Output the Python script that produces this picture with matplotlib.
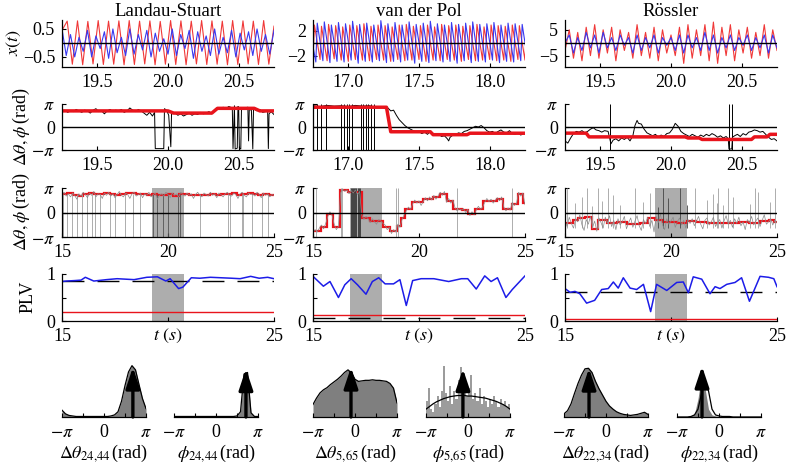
import numpy as np
import matplotlib
matplotlib.use('Agg')
import matplotlib.pyplot as plt

plt.rcParams['font.family'] = ['Liberation Serif', 'DejaVu Serif']
plt.rcParams['mathtext.fontset'] = 'stix'
plt.rcParams['font.size'] = 13
plt.rcParams['axes.linewidth'] = 0.9

PI = np.pi

# ---------------- data ----------------
titles = ['Landau-Stuart', 'van der Pol', 'Rössler']
zoom_windows = [(19.25, 20.75), (16.75, 18.25), (19.25, 20.75)]
zoom_ticks = [[19.5, 20.0, 20.5], [17.0, 17.5, 18.0], [19.5, 20.0, 20.5]]
x_yticks = [[-0.5, 0.5], [-2, 2], [-5, 5]]
x_ylims = [(-0.86, 0.82), (-3.8, 3.7), (-9.4, 8.8)]

# row 1: oscillator signals (successive extrema)
ls_red = [0.45, 0.78, -0.76, 0.79, -0.78, 0.77, -0.75, 0.8, -0.77, 0.78, -0.76, 0.79, -0.78, 0.8,
          -0.77, 0.78, -0.75, 0.79, -0.78, 0.77, -0.76, 0.8, -0.77, 0.79, -0.78, 0.78, -0.75, 0.8,
          -0.77, 0.79, -0.76, 0.78, -0.78, 0.8, -0.77, 0.79, -0.75, 0.78, -0.77, 0.8, -0.76, 0.6]
ls_blue = [0.5, -0.45, 0.3, -0.5, 0.2, -0.3, 0.45, -0.5, 0.25, -0.2, 0.4, -0.55, 0.5, -0.35, 0.2,
           -0.45, 0.5, -0.4, 0.3, -0.25, 0.45, -0.5, 0.35, -0.3, 0.15, -0.4, 0.5, -0.45, 0.3, -0.2,
           0.45, -0.55, 0.4, -0.3, 0.25, -0.45, 0.5, -0.4, 0.2, -0.35, 0.45, -0.5, 0.35, -0.25, 0.4,
           -0.45, 0.5, -0.3, 0.3, -0.4, 0.45]
vdp_red = [-2.7, 2.9, -2.6, 2.7, -2.8, 3.0, -2.5, 2.8, -2.7, 2.6, -2.9, 2.9, -2.6, 2.8, -2.7, 3.1,
           -2.8, 2.7, -2.6, 2.9, -2.7, 2.8, -2.9, 2.6, -2.6, 2.9, -2.8, 3.0, -2.7, 2.7, -2.6, 2.8,
           -2.9, 2.9, -2.7, 2.6, -2.8, 3.0, -2.6, 2.8, -2.7, 2.9, -2.9, 2.7, -2.6, 2.8, -2.8, 3.0,
           -2.7, 2.6, -2.6, 2.9, -2.8, 2.8, -2.7, 2.7, -2.9, 2.9, -2.6, 2.8, -2.7, 2.9, -2.6]
vdp_blue = [2.0, -3.0, 3.2, -2.8, 3.4, -3.1, 2.9, -2.9, 3.3, -3.0, 3.1, -2.7, 3.5, -3.2, 3.0, -2.9,
            3.2, -3.0, 2.9, -2.8, 3.6, -3.1, 3.1, -2.9, 3.3, -3.0, 2.9, -2.7, 3.4, -3.2, 3.0, -2.9,
            3.2, -3.1, 3.5, -2.8, 3.1, -3.0, 2.9, -2.9, 3.3, -3.2, 3.0, -2.8, 3.2, -3.1, 3.4, -2.9,
            3.0, -3.0, 3.1, -2.7, 3.3, -3.1, 2.9, -2.9, 3.2, -3.0, 3.1, -2.8, 3.0, -2.9, 3.2]
ross_red = [-3, 5, -6, 4, -7, 6, -5, 7, -6, 5, -4, 6, -7, 5, -3, 4, -6, 7, -5, 4, -6, 6, -7, 5, -4,
            3, -5, 6, -8, 7, -6, 5, -5, 7, -7, 8, -8, 6, -5, 7, -7, 5, -4, 6, -6, 4, -5, 7, -6, 5, -3]
ross_blue = [0, 3, -4, 2, -3, 4, -2, 3, -4, 4, -2, 2, -3, 3, -1, 2, -4, 3, -3, 2, -2, 3, -4, 2, -1,
             2, -3, 3, -4, 3, -2, 2, -3, 4, -3, 3, -4, 2, -2, 3, -3, 2, -1, 3, -3, 2, -2, 3, -4, 3, -2]

# row 2: phase difference (black) and locking phase (red), zoomed windows
ls_black2 = [(19.25, 2.1), (19.27, 2.3), (19.29, 2.0), (19.31, 2.2), (19.33, 2.1), (19.35, 2.4),
             (19.37, 2.2), (19.39, 2.0), (19.41, 2.3), (19.43, 2.2), (19.45, 1.9), (19.47, 2.3),
             (19.49, 2.5), (19.51, 2.1), (19.53, 2.2), (19.55, 1.8), (19.57, 2.2), (19.59, 2.4),
             (19.61, 2.1), (19.63, 2.3), (19.65, 2.2), (19.67, 2.4), (19.69, 2.0), (19.71, 2.2),
             (19.73, 2.6), (19.75, 2.3), (19.77, 2.1), (19.79, 2.4), (19.81, 2.2), (19.83, 1.9),
             (19.85, 1.6), (19.87, 2.0), (19.89, 1.5), (19.905, 2.0), (19.91, -2.95), (19.97, -2.95),
             (19.975, 2.5), (19.99, 2.3), (20.005, 1.6), (20.02, -2.7), (20.025, 1.8), (20.05, 1.9),
             (20.07, 1.6), (20.09, 1.8), (20.11, 1.5), (20.13, 1.7), (20.15, 1.9), (20.17, 1.6),
             (20.19, 1.8), (20.21, 1.7), (20.23, 2.0), (20.25, 1.8), (20.27, 1.9), (20.29, 2.1),
             (20.31, 1.8), (20.33, 2.2), (20.35, 2.6), (20.37, 2.4), (20.39, 2.7), (20.41, 2.5),
             (20.43, 2.8), (20.455, 2.6), (20.46, -2.95), (20.47, 2.9), (20.475, -3.0), (20.49, -2.9),
             (20.495, 2.8), (20.5, 2.7), (20.505, -2.9), (20.515, -3.0), (20.52, 2.5), (20.54, 2.6),
             (20.565, 2.7), (20.57, -1.9), (20.575, 2.4), (20.59, 2.3), (20.6, -3.0), (20.605, 2.5),
             (20.63, 2.2), (20.65, 2.4), (20.67, 2.0), (20.69, 2.1), (20.705, 2.2), (20.71, -2.95),
             (20.715, 1.8), (20.73, 2.1), (20.75, 1.7)]
ls_red2 = [(19.25, 2.2), (20.0, 2.2), (20.04, 1.9), (20.31, 1.9), (20.35, 2.55), (20.61, 2.55),
           (20.65, 2.2), (20.75, 2.2)]
ls_wraps2 = []

vdp_black2 = [(16.75, 2.9), (16.8, 2.8), (16.85, 2.95), (16.9, 2.85), (16.95, 2.9), (17.0, 2.8),
              (17.05, 2.95), (17.1, 2.85), (17.15, 2.9), (17.2, 2.7), (17.23, 2.8), (17.26, 2.5),
              (17.28, 2.6), (17.3, 2.2), (17.32, 2.3), (17.34, 1.6), (17.36, 1.0), (17.38, 0.6),
              (17.4, 0.2), (17.42, -0.1), (17.44, -0.3), (17.46, -0.5), (17.48, -0.7), (17.5, -0.6),
              (17.52, -0.9), (17.54, -0.7), (17.56, -1.0), (17.58, -0.6), (17.6, -0.9), (17.62, -1.1),
              (17.64, -1.0), (17.66, -1.3), (17.68, -1.2), (17.7, -1.6), (17.71, -1.9), (17.72, -1.4),
              (17.74, -1.1), (17.76, -1.0), (17.78, -0.8), (17.8, -0.9), (17.82, -0.6), (17.84, -0.5),
              (17.86, -0.3), (17.88, -0.1), (17.9, 0.1), (17.92, 0.0), (17.94, 0.2), (17.96, -0.1),
              (17.98, -0.5), (18.0, -0.7), (18.02, -0.6), (18.04, -0.9), (18.06, -0.6), (18.08, -0.4),
              (18.1, -0.7), (18.12, -0.8), (18.14, -0.5), (18.16, -0.9), (18.18, -1.0), (18.2, -0.8),
              (18.22, -1.1), (18.24, -0.9), (18.25, -1.0)]
vdp_red2 = [(16.75, 2.7), (17.27, 2.7), (17.3, -0.65), (17.58, -0.65), (17.6, -1.05), (17.84, -1.05),
            (17.86, -0.85), (18.25, -0.85)]
vdp_wraps2 = [16.776, 16.81, 16.845, 16.95, 16.97, 16.99, 17.007, 17.026, 17.088, 17.104, 17.123,
              17.14, 17.157, 17.18]

ross_black2 = [(19.25, -1.9), (19.27, -2.2), (19.29, -1.5), (19.31, -0.9), (19.33, -0.6), (19.35, -0.7),
               (19.37, -0.5), (19.39, -0.8), (19.41, -0.6), (19.43, -0.3), (19.45, -0.1), (19.47, -0.4),
               (19.49, -0.5), (19.51, -0.7), (19.53, -0.5), (19.555, -0.6), (19.575, -2.3), (19.59, -1.8),
               (19.61, -1.6), (19.63, -1.9), (19.65, -1.5), (19.67, -1.7), (19.69, -1.4), (19.71, -1.9),
               (19.73, -1.2), (19.745, 0.2), (19.76, 0.9), (19.77, 0.5), (19.79, 0.4), (19.81, -0.3),
               (19.83, -0.8), (19.85, -1.0), (19.87, -1.2), (19.89, -1.0), (19.91, -1.4), (19.93, -1.1),
               (19.95, -1.3), (19.97, -0.9), (19.99, -0.8), (20.01, -0.3), (20.03, 0.5), (20.05, 0.1),
               (20.07, -0.6), (20.09, -0.9), (20.11, -1.1), (20.13, -1.3), (20.15, -1.0), (20.17, -1.2),
               (20.19, -1.4), (20.21, -1.1), (20.23, -1.3), (20.25, -1.0), (20.27, -1.2), (20.29, -0.9),
               (20.31, -1.1), (20.33, -1.4), (20.35, -1.2), (20.37, -1.5), (20.39, -1.3), (20.405, -1.6),
               (20.41, -3.0), (20.43, -3.0), (20.435, -1.4), (20.45, -1.2), (20.47, -1.0), (20.49, -1.3),
               (20.51, -0.9), (20.53, -1.1), (20.55, -0.7), (20.57, -0.6), (20.59, -0.4), (20.61, -0.5),
               (20.63, -0.7), (20.65, -0.6), (20.67, -1.0), (20.69, -1.4), (20.71, -1.7), (20.73, -1.6),
               (20.75, -1.9)]
ross_red2 = [(19.25, -0.84), (19.4, -0.84), (19.42, -1.35), (20.1, -1.35), (20.12, -1.5), (20.2, -1.5),
             (20.22, -1.7), (20.57, -1.7), (20.59, -1.35), (20.68, -1.35), (20.7, -1.0), (20.75, -1.0)]
ross_wraps2 = [19.565, 20.41, 20.43]

# row 3: full 15-25 s window, samples every 0.1 s
ls_gray3 = [2.3, 2.6, 2.1, 2.4, 2.0, 2.5, 2.2, 1.7, 2.4, 2.1, 2.6, 2.3, 1.9, 2.5, 2.2, 2.7, 2.0, 2.4,
            2.3, 1.8, 2.5, 2.2, 2.6, 2.1, 2.4, 1.9, 2.3, 2.7, 2.2, 2.0, 2.5, 2.3, 1.8, 2.4, 2.6, 2.1,
            2.3, 2.5, 1.9, 2.4, 2.2, 2.6, 2.0, 2.3, 2.5, 1.7, 2.2, 2.4, 2.1, 2.6, 2.3, 1.9, 2.5, 2.2,
            2.4, 2.0, 2.6, 2.3, 2.1, 2.5, 2.2, 2.4, 1.8, 2.3, 2.6, 2.2, 2.0, 2.5, 2.3, 2.1, 2.6, 2.2,
            2.4, 1.9, 2.5, 2.3, 2.0, 2.4, 2.6, 2.2, 2.1, 2.5, 2.3, 1.8, 2.4, 2.6, 2.2, 2.0, 2.5, 2.3,
            2.4, 2.1, 2.6, 2.3, 1.9, 2.5, 2.2, 2.4, 2.0, 2.3, 2.2]
ls_red3_edges = [15.0, 15.25, 15.5, 15.75, 16.0, 16.25, 16.5, 16.75, 17.0, 17.25, 17.5, 17.75, 18.0,
                 18.25, 18.5, 18.75, 19.0, 19.25, 19.5, 19.75, 20.0, 20.25, 20.5, 20.75, 21.0, 21.25,
                 21.5, 21.75, 22.0, 22.25, 22.5, 22.75, 23.0, 23.25, 23.5, 23.75, 24.0, 24.25, 24.5,
                 24.75, 25.0]
ls_red3 = [2.4, 2.45, 2.25, 2.15, 2.4, 2.45, 2.4, 2.35, 2.45, 2.4, 2.3, 2.35, 2.45, 2.5, 2.4, 2.35,
           2.3, 2.4, 2.3, 2.25, 2.35, 2.15, 2.4, 2.35, 2.25, 2.3, 2.2, 2.3, 2.35, 2.3, 2.4, 2.35, 2.45,
           2.3, 2.35, 2.45, 2.4, 2.3, 2.35, 2.3]
ls_wraps3 = [15.06, 15.22, 15.45, 15.69, 15.93, 16.16, 16.4, 16.56, 16.79, 17.26, 17.5, 17.97, 18.36,
             18.68, 19.31, 19.47, 19.78, 20.02, 20.49, 20.57, 21.51, 22.85, 22.92, 23.48, 23.56,
             23.95, 24.43, 24.74]

vdp_gray3 = [-2.6, -2.2, -2.5, -2.0, -1.6, -2.1, -1.4, -0.5, 0.1, -0.4, -1.5, -2.2, -1.8, 2.5, 3.0,
             2.7, 2.9, 2.4, 2.8, 2.5, 2.9, 2.3, 2.7, -0.3, -0.9, -0.5, -0.8, -1.3, -0.8, -1.2, -1.5,
             -0.9, -1.1, -1.4, -1.6, -2.2, -1.9, -2.7, -2.2, -2.5, -1.5, -1.9, -0.9, -0.3, 0.2, 0.7,
             0.4, 1.1, 1.6, 1.2, 1.5, 0.9, 1.4, 1.9, 1.5, 2.0, 1.6, 2.2, 1.7, 2.1, 2.6, 2.2, 2.7, 1.3,
             1.8, 1.2, 1.6, 0.6, 0.2, 0.5, 0.3, 0.5, 0.0, 0.4, -0.4, 0.1, -0.3, 0.3, 0.8, 0.4, 0.7,
             1.3, 1.8, 1.4, 1.7, 1.2, 1.6, 1.9, 1.5, 2.0, 0.7, 0.2, 0.6, 0.3, 1.3, 0.9, 1.2, 2.6, 2.1,
             2.5, 1.0]
vdp_red3_edges = [15.0, 15.4, 15.65, 15.93, 16.27, 16.67, 17.3, 17.69, 18.32, 18.63, 18.95, 19.15,
                  19.34, 19.65, 20.2, 20.67, 20.99, 21.3, 21.62, 22.01, 22.33, 22.64, 23.03, 23.67,
                  23.98, 24.37, 24.68, 24.9, 25.0]
vdp_red3 = [-2.4, -1.87, -0.21, -1.87, 2.84, 2.62, -0.65, -1.09, -1.87, -2.4, -1.7, -0.65, 0.44, 1.31,
            1.75, 1.95, 2.4, 1.5, 0.44, 0.3, -0.2, 0.5, 1.5, 1.75, 0.44, 1.1, 2.4, 1.2]
vdp_wraps3 = [15.16, 16.3, 16.38, 16.8, 16.85, 16.9, 16.95, 17.0, 17.05, 17.1, 17.15, 17.2, 18.9, 19.0,
              21.8, 24.37]

ross_gray3 = [-1.0, -1.8, -0.6, -1.4, -2.0, -0.8, -1.2, -0.3, -1.6, -2.3, -0.9, -1.5, -0.5, -1.9, -1.1,
              -2.4, -0.7, -1.3, -2.0, -0.6, -1.4, -0.4, -1.8, -1.0, -2.2, -0.8, -1.6, -1.2, -0.5, -2.1,
              -1.3, -0.7, -1.9, -1.1, -0.4, -1.7, -2.3, -0.9, -1.4, -0.6, -1.8, -1.0, -2.5, -0.5, -1.3,
              -0.2, -1.6, -2.2, -0.8, -1.5, -1.1, -0.6, -1.9, -1.2, -0.7, -1.6, -1.0, -2.0, -0.9, -1.4,
              -0.8, -1.7, -1.1, -0.5, -1.5, -2.1, -1.0, -0.7, -1.6, -1.2, -0.6, -1.8, -1.3, -0.9, -2.0,
              -1.1, -0.4, -1.5, -1.0, -1.9, -0.8, -1.4, -0.6, -1.7, -1.2, -2.2, -0.9, -1.3, -0.5, -1.6,
              -1.1, -0.7, -1.8, -1.0, -0.3, -1.5, -1.2, -0.8, -1.6, -1.0, -1.3]
ross_red3_edges = [15.0, 15.39, 15.63, 15.94, 16.26, 16.57, 16.97, 17.44, 17.91, 18.54, 18.93, 19.25,
                   19.64, 20.27, 20.74, 21.2, 21.7, 22.2, 22.7, 23.2, 23.7, 24.2, 24.6, 24.85, 25.0]
ross_red3 = [-1.3, -0.95, -0.75, -0.55, -2.09, -1.0, -1.4, -1.25, -1.5, -1.3, -0.75, -0.98, -1.2,
             -1.3, -1.1, -1.2, -1.3, -1.4, -1.35, -1.2, -1.3, -1.15, -0.95, -1.2]
ross_spk_t = [15.08, 15.47, 15.79, 16.02, 16.26, 16.57, 16.73, 17.04, 17.28, 17.59, 18.3, 18.69, 19.01,
              19.4, 19.64, 19.87, 20.42, 20.74, 21.13, 21.68, 22.0, 22.15, 22.23, 22.47, 22.7, 22.94,
              23.73, 23.96, 24.12, 24.67, 24.91]
ross_spk_top = [3.1, 1.2, 2.0, 3.1, 0.8, 3.1, 1.5, 3.1, 2.2, 0.9, 3.1, 1.4, 2.5, 0.7, 3.1, 1.8, 3.14,
                1.0, 3.1, 1.6, 2.4, 1.2, 3.1, 0.9, 3.1, 2.0, 1.1, 3.1, 2.6, 1.3, 3.1]

# row 4: PLV
plv_ls = [(15.0, 0.84), (15.2, 0.85), (15.6, 0.86), (15.9, 0.87), (16.1, 0.93), (16.5, 0.85),
          (17.1, 0.88), (17.6, 0.9), (18.4, 0.88), (19.0, 0.93), (19.5, 0.94), (19.9, 0.85),
          (20.1, 0.9), (20.5, 0.69), (20.7, 0.72), (21.1, 0.92), (21.5, 0.91), (22.0, 0.93),
          (22.5, 0.92), (23.0, 0.91), (23.4, 0.9), (23.9, 0.95), (24.3, 0.91), (24.7, 0.93), (25.0, 0.9)]
plv_vdp = [(15.0, 0.95), (15.49, 0.74), (15.8, 0.84), (16.2, 0.5), (16.5, 0.77), (16.8, 0.9),
           (17.1, 0.77), (17.5, 0.57), (17.8, 0.84), (18.1, 0.92), (18.4, 0.79), (18.8, 0.79),
           (19.1, 0.88), (19.4, 0.33), (19.7, 0.86), (20.1, 0.9), (20.7, 0.9), (21.4, 0.84),
           (22.0, 0.9), (22.3, 0.9), (22.7, 0.68), (23.1, 0.96), (23.4, 0.84), (23.7, 0.92),
           (24.1, 0.5), (24.4, 0.67), (25.0, 0.96)]
plv_ross = [(15.0, 0.69), (15.24, 0.61), (15.47, 0.63), (15.7, 0.58), (16.02, 0.38), (16.4, 0.44),
            (16.73, 0.67), (17.04, 0.69), (17.28, 0.83), (17.51, 0.7), (17.75, 0.92), (18.07, 0.7),
            (18.38, 0.67), (18.7, 0.78), (19.04, 0.2), (19.32, 0.78), (19.8, 0.65), (20.27, 0.82),
            (20.58, 0.83), (20.82, 0.6), (21.05, 0.94), (21.45, 0.89), (21.84, 0.58), (22.08, 0.73),
            (22.31, 0.69), (22.63, 0.78), (23.02, 0.82), (23.33, 0.92), (23.7, 0.42), (24.2, 0.95),
            (24.6, 0.93), (24.85, 0.9), (25.0, 0.73)]
plv_surrogate = [0.19, 0.13, 0.05]     # red lines
plv_threshold = [0.86, 0.07, 0.61]     # dashed black lines

# row 5: phase distributions on [-pi, pi]
hist1 = [0.13, 0.06, 0.03, 0.02, 0.01, 0.01, 0.01, 0.01, 0.01, 0.01, 0.01, 0.01, 0.01, 0.01, 0.02,
         0.04, 0.1, 0.3, 0.6, 0.86, 0.98, 0.9, 0.62, 0.35, 0.16]
hist2 = [0.01, 0.01, 0.01, 0.01, 0.01, 0.01, 0.01, 0.01, 0.01, 0.01, 0.01, 0.01, 0.01, 0.01, 0.01,
         0.01, 0.01, 0.01, 0.02, 0.1, 0.82, 0.85, 0.08, 0.01, 0.01]
hist3 = [0.24, 0.36, 0.46, 0.52, 0.56, 0.62, 0.67, 0.72, 0.78, 0.85, 0.9, 0.84, 0.72, 0.68, 0.69,
         0.7, 0.7, 0.71, 0.7, 0.7, 0.69, 0.68, 0.64, 0.55, 0.27]
hist4_bars = [0.3, 0.55, 0.15, 0.1, 0.25, 0.4, 0.2, 0.5, 0.97, 0.45, 0.3, 0.6, 0.25, 0.5, 0.35, 0.7,
              0.95, 0.5, 0.7, 0.4, 0.55, 0.8, 0.35, 0.45, 0.3, 0.55, 0.25, 0.4, 0.3, 0.2, 0.35, 0.25,
              0.4, 0.3, 0.2, 0.35, 0.25, 0.3, 0.2, 0.25]
hist4_curve = [0.15, 0.2, 0.25, 0.29, 0.32, 0.35, 0.37, 0.39, 0.4, 0.41, 0.41, 0.41, 0.4, 0.4, 0.39,
               0.38, 0.37, 0.36, 0.34, 0.32, 0.3, 0.27, 0.24, 0.2, 0.15]
hist5 = [0.06, 0.12, 0.25, 0.45, 0.64, 0.8, 0.92, 0.93, 0.85, 0.68, 0.54, 0.42, 0.3, 0.21, 0.15, 0.1,
         0.07, 0.05, 0.04, 0.03, 0.04, 0.05, 0.07, 0.09, 0.05]
hist6_bars = [0.01, 0.01, 0.01, 0.01, 0.02, 0.06, 0.35, 0.8, 0.55, 0.15, 0.04, 0.02, 0.01, 0.01,
              0.01, 0.01, 0.01, 0.01, 0.01, 0.01, 0.01, 0.01, 0.01, 0.01, 0.01]
hist6_curve = [0.0, 0.0, 0.0, 0.0, 0.01, 0.04, 0.15, 0.45, 0.68, 0.5, 0.15, 0.04, 0.02, 0.01, 0.01,
               0.01, 0.0, 0.0, 0.0, 0.0, 0.0, 0.0, 0.0, 0.0, 0.0]
mean_angle = [2.16, 2.24, -0.3, -0.38, -1.27, -1.27]
mean_len = [0.95, 0.92, 0.95, 0.92, 0.93, 0.97]
hist_labels = [r'$\Delta\theta_{24{,}44}\,$(rad)', r'$\phi_{24{,}44}\,$(rad)',
               r'$\Delta\theta_{5{,}65}\,$(rad)', r'$\phi_{5{,}65}\,$(rad)',
               r'$\Delta\theta_{22{,}34}\,$(rad)', r'$\phi_{22{,}34}\,$(rad)']

# ---------------- figure ----------------
W, H = 787, 472
fig = plt.figure(figsize=(W / 100, H / 100), dpi=100)


def add_ax(x0, y_top, h, w=212):
    return fig.add_axes([x0 / W, 1 - (y_top + h) / H, w / W, h / H])


col_x = [62, 313, 565]
rows = [(20, 47), (104, 46), (188, 49), (274, 47)]
RED = '#e8141c'
BLUE = '#1c1ce8'
SHADE = '#adadad'


def style(ax):
    ax.spines['top'].set_visible(False)
    ax.spines['right'].set_visible(False)
    ax.tick_params(direction='in', length=3, width=0.8, pad=5, labelsize=13)


def pi_axis(ax):
    ax.set_ylim(-PI, PI)
    ax.set_yticks([-PI, 0, PI])
    ax.set_yticklabels([r'$-\pi$', '0', r'$\pi$'])


def sawtooth_times(vals, t0, rise, fall):
    t = [t0]
    for a, b in zip(vals[:-1], vals[1:]):
        t.append(t[-1] + (rise if b > a else fall))
    return np.array(t)


# row 1
for c in range(3):
    w0, w1 = zoom_windows[c]
    if c == 0:
        r, b = ls_red, ls_blue
        tr, tb = np.linspace(w0, w1, len(r)), np.linspace(w0, w1, len(b))
    elif c == 1:
        r, b = vdp_red, vdp_blue
        tr = sawtooth_times(r, w0, 0.01, 0.04)
        tb = sawtooth_times(b, w0 - 0.02, 0.01, 0.04)
    else:
        r, b = ross_red, ross_blue
        tr, tb = np.linspace(w0, w1, len(r)), np.linspace(w0, w1, len(b))
    ax = add_ax(col_x[c], *rows[0])
    style(ax)
    ax.plot(tr, r, color='#f03838', lw=0.8)
    ax.plot(tb, b, color='#3838f0', lw=0.8)
    ax.axhline(0, color='k', lw=1)
    ax.set_xlim(w0, w1)
    ax.set_ylim(*x_ylims[c])
    ax.set_xticks(zoom_ticks[c])
    ax.set_xticklabels(['%.1f' % v for v in zoom_ticks[c]])
    ax.set_yticks(x_yticks[c])
    ax.set_title(titles[c], fontsize=13.5, pad=3)

# row 2
row2 = [(ls_black2, ls_red2, ls_wraps2), (vdp_black2, vdp_red2, vdp_wraps2),
        (ross_black2, ross_red2, ross_wraps2)]
for c in range(3):
    blk, red, wr = row2[c]
    ax = add_ax(col_x[c], *rows[1])
    style(ax)
    ax.axhline(0, color='k', lw=1)
    if wr:
        ax.vlines(wr, -PI, PI, color='k', lw=0.7)
    ax.plot([p[0] for p in blk], [p[1] for p in blk], color='k', lw=0.7)
    ax.plot([p[0] for p in red], [p[1] for p in red], color=RED, lw=2.5)
    ax.set_xlim(*zoom_windows[c])
    pi_axis(ax)
    ax.set_xticks(zoom_ticks[c])
    ax.set_xticklabels(['%.1f' % v for v in zoom_ticks[c]])

# row 3
t_grid = np.linspace(15, 25, 101)
row3 = [(ls_gray3, ls_red3_edges, ls_red3), (vdp_gray3, vdp_red3_edges, vdp_red3),
        (ross_gray3, ross_red3_edges, ross_red3)]
for c in range(3):
    gray, edges, vals = row3[c]
    w0, w1 = zoom_windows[c]
    ax = add_ax(col_x[c], *rows[2])
    style(ax)
    ax.axvspan(w0, w1, color=SHADE, lw=0)
    if c == 0:
        cols = ['#555555' if w0 <= t <= w1 else '#a0a0a0' for t in ls_wraps3]
        ax.vlines(ls_wraps3, -PI, 2.4, colors=cols, lw=0.6)
    elif c == 1:
        cols = ['#333333' if w0 <= t <= w1 else '#a0a0a0' for t in vdp_wraps3]
        ax.vlines(vdp_wraps3, -PI, PI, colors=cols, lw=0.6)
    else:
        cols = ['#444444' if w0 <= t <= w1 else '#a0a0a0' for t in ross_spk_t]
        ax.vlines(ross_spk_t, -2.0, ross_spk_top, colors=cols, lw=0.6)
    ax.plot(t_grid, gray, color='#8a8a8a', lw=0.5)
    ax.axhline(0, color='k', lw=1)
    ax.stairs(vals, edges, color=RED, lw=1.6, baseline=None)
    ax.set_xlim(15, 25)
    pi_axis(ax)
    ax.set_xticks([15, 20, 25])

# row 4
plvs = [plv_ls, plv_vdp, plv_ross]
for c in range(3):
    w0, w1 = zoom_windows[c]
    ax = add_ax(col_x[c], *rows[3])
    style(ax)
    ax.axvspan(w0, w1, color=SHADE, lw=0)
    ax.axhline(plv_surrogate[c], color=RED, lw=1)
    ax.axhline(plv_threshold[c], color='k', lw=1, dashes=(15.8, 9.4))
    ax.plot([p[0] for p in plvs[c]], [p[1] for p in plvs[c]], color=BLUE, lw=1.1)
    ax.set_xlim(15, 25)
    ax.set_ylim(0, 1)
    ax.set_yticks([0, 0.5, 1])
    ax.set_yticklabels(['0', '', '1'])
    ax.set_xticks([15, 20, 25])
    ax.set_xticklabels(['15', '', '25'])
    ax.text(20, -0.12, r'$t$ $(s)$', transform=ax.get_xaxis_transform(), ha='center',
            va='top', fontsize=13)

# row 5
hist_x = [62, 174, 313, 426, 564, 677]
dens = [hist1, hist2, hist3, None, hist5, hist6_bars]
curves = [hist1, hist2, hist3, hist4_curve, hist5, hist6_curve]
for k in range(6):
    ax = add_ax(hist_x[k], 362, 55, w=84)
    for s in ['top', 'right', 'left']:
        ax.spines[s].set_visible(False)
    ax.set_xlim(-PI, PI)
    ax.set_ylim(0, 1.05)
    ax.set_yticks([])
    ax.set_xticks([-PI, -PI / 2, 0, PI / 2, PI])
    ax.set_xticklabels([r'$-\pi$', '', '0', '', r'$\pi$'])
    ax.tick_params(axis='x', direction='in', length=3, width=0.8, pad=5, labelsize=13)
    if k == 3:
        edges = np.linspace(-PI, PI, len(hist4_bars) + 1)
        ax.stairs(hist4_bars, edges, fill=True, color='#9c9c9c', lw=0)
    else:
        d = dens[k]
        ax.fill_between(np.linspace(-PI, PI, len(d)), d, color='#7f7f7f', lw=0)
    cv = curves[k]
    ax.plot(np.linspace(-PI, PI, len(cv)), cv, color='k', lw=0.9)
    ax.annotate('', xy=(mean_angle[k], mean_len[k]), xytext=(mean_angle[k], 0),
                arrowprops=dict(arrowstyle='-|>,head_length=0.9,head_width=0.3', color='k',
                                lw=2.4, shrinkA=0, shrinkB=0, mutation_scale=14))
    ax.set_xlabel(hist_labels[k], fontsize=13, labelpad=1)

# y labels
fig.text(14 / W, 1 - 43 / H, r'$x(t)$', rotation=90, ha='center', va='center', fontsize=13)
fig.text(21 / W, 1 - 127 / H, r'$\Delta\theta,\phi\,$(rad)', rotation=90, ha='center',
         va='center', fontsize=13)
fig.text(21 / W, 1 - 212 / H, r'$\Delta\theta,\phi\,$(rad)', rotation=90, ha='center',
         va='center', fontsize=13)
fig.text(28 / W, 1 - 297 / H, 'PLV', rotation=90, ha='center', va='center', fontsize=13)

fig.savefig('out.png', dpi=100)
